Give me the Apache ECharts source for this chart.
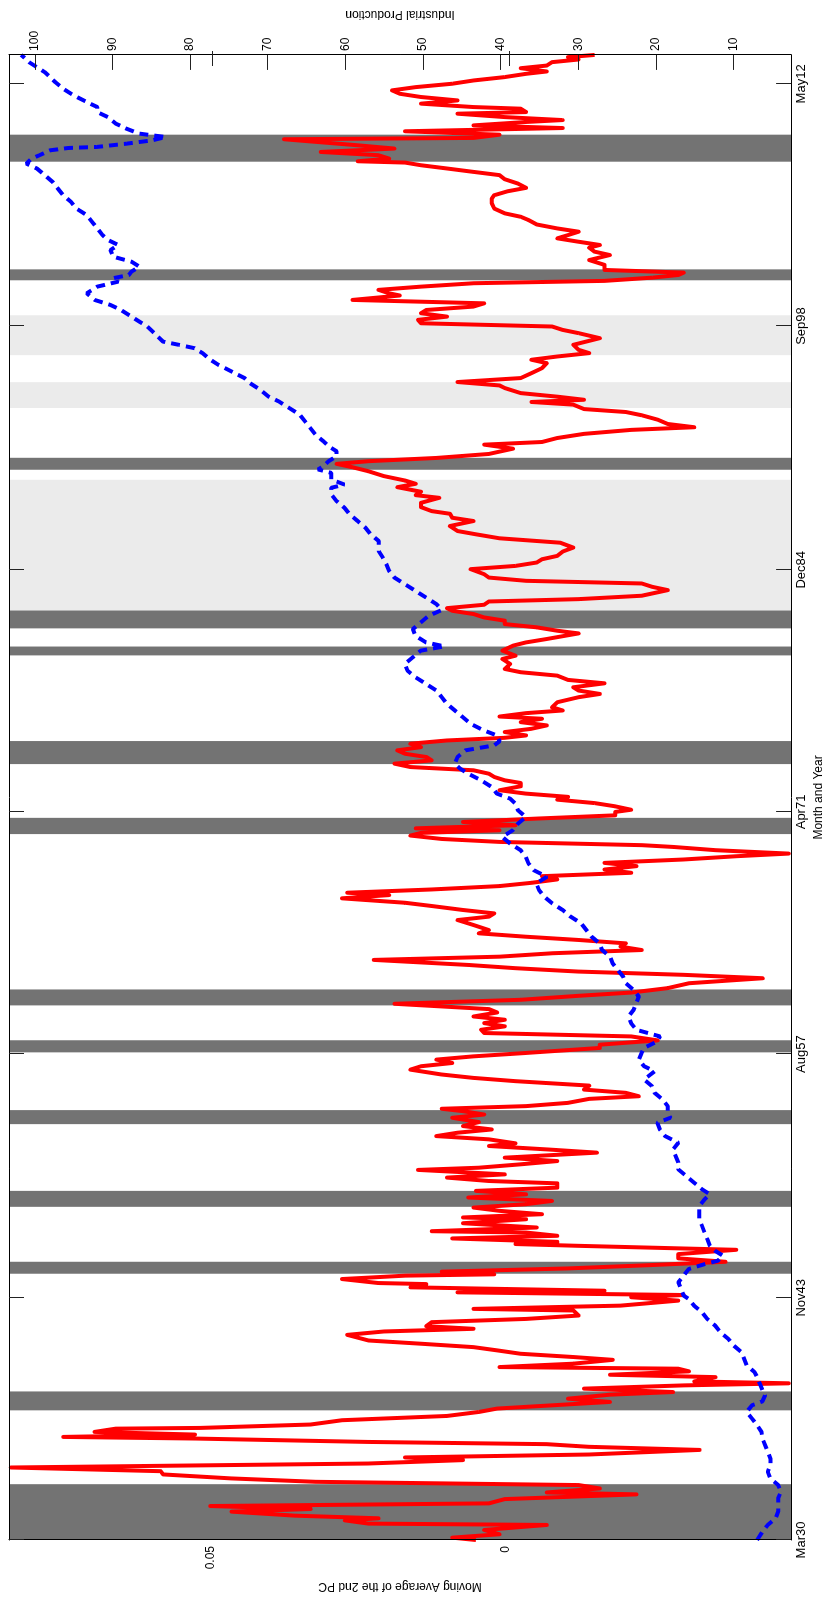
<!DOCTYPE html>
<html>
<head>
<meta charset="utf-8">
<script src="https://cdn.jsdelivr.net/npm/echarts@6.0.0/dist/echarts.min.js"></script>
<style>
  html, body { margin: 0; padding: 0; background: #fff; overflow: hidden; width: 830px; height: 1602px; }
  /* the figure is drawn landscape and turned a quarter turn, like the reference */
  #chart { position: absolute; left: 0; top: 0; width: 1602px; height: 830px;
           transform-origin: 0 0; transform: translate(0px, 1602px) rotate(-90deg); }
</style>
</head>
<body>
<div id="chart"></div>
<script>
// x axis: months since Mar 1930
const monthTicks = [0, 164, 329, 493, 657, 822, 986];
const monthLabels = ['Mar30', 'Nov43', 'Aug57', 'Apr71', 'Dec84', 'Sep98', 'May12'];
const monthMax = 1005.6;

const pcTicks = [0, 0.05];
const pcRange = [-0.0483, 0.0842];
const ipTicks = [10, 20, 30, 40, 50, 60, 70, 80, 90, 100];
const ipRange = [2.57, 103.33];

// recessions (dark) and other shaded periods (light), [start, end] in months
const recessions = [
  [0, 37.8], [87.8, 100.6], [180.3, 188.4], [225.6, 236.4], [281.6, 291.1],
  [330.2, 338.4], [362.0, 372.8], [478.0, 489.0], [525.4, 541.0], [599.0, 605.0],
  [617.3, 629.4], [724.7, 732.8], [853.0, 860.4], [933.3, 951.6]
];
const lightPeriods = [[629.4, 717.9], [766.5, 784.0], [802.3, 829.3]];

// moving average of the 2nd PC, [month, value]
const pcSeries = [
  [0,0.0051],[1.6,0.0091],[3.9,0.0011],[6.8,0.0037],[10.2,-0.0069],[11.1,0.0233],[13.3,0.0273],[14.7,0.0216],
  [16.5,0.0358],[19.2,0.0465],[21,0.0331],[23,0.0501],[24.8,0.0029],[27.7,0.0002],[30.9,-0.0221],[32.2,-0.0069],
  [34.9,-0.0159],[37.2,-0.0123],[39.4,0.0322],[41.7,0.0465],[44.4,0.0581],[46.6,0.0585],[49.1,0.0839],[51.8,0.0233],
  [54.1,0.0073],[55.9,0.0171],[57.9,-0.0141],[61,-0.0328],[63.1,-0.0141],[64.9,-0.0069],[66.4,0.0233],[68.7,0.0527],
  [69.8,0.075],[71.4,0.0527],[73.2,0.0697],[75.4,0.0661],[75.9,0.0518],[78.2,0.0331],[81.1,0.0278],[84,0.01],
  [86.7,0.0046],[89,0.0015],[91.2,-0.0078],[93.5,-0.0176],[95.7,-0.0105],[98.4,-0.0176],[100.2,-0.0283],[102.5,-0.0132],
  [104.7,-0.0301],[106.1,-0.0479],[107.4,-0.0319],[110.3,-0.0355],[111.9,-0.0176],[114.2,-0.031],[116,-0.0292],[117.1,0.0011],
  [119.4,-0.0114],[122,-0.0181],[123.9,-0.0114],[126.1,-0.0025],[128.4,0.0015],[130.6,0.0055],[132.9,0.0144],[135.1,0.0233],
  [138.9,0.0269],[141.2,0.0207],[143,0.0055],[144.8,0.0135],[147.5,0.0126],[149.7,-0.0034],[152,-0.0123],[155.4,-0.0114],
  [156.5,0.0055],[158.7,-0.0194],[162.1,-0.0292],[164.4,-0.0212],
  [165.9,-0.0301],[167.7,0.0082],[168.8,-0.0167],[171.1,0.0162],[173.3,0.0135],[174,0.0216],[176.7,0.0278],[179,0.0171],
  [179.9,0.002],[181.7,0.0109],[183.9,-0.0105],[186.2,-0.0248],[188.4,-0.0372],[190.7,-0.0292],[193.6,-0.0292],[196.5,-0.039],
  [199.2,-0.0123],[200.4,-0.0016],[201.9,-0.0087],[204.2,0.0091],[206,-0.0087],[208.2,-0.0034],[209.1,0.0126],[211.6,-0.0052],
  [214.5,0.0073],[217.2,-0.0034],[218.4,0.0073],[220.6,-0.0061],[222.9,0.0011],[225.1,0.0055],[227.4,-0.0034],[229.6,-0.0078],
  [231.9,0.0064],[234.1,-0.0034],[236.4,0.0051],[238.6,-0.0087],[241.5,-0.0087],[243.1,0.0029],[245.4,0.01],[247.6,0.0002],
  [250.6,0.0149],[252.1,0.0046],[254.4,-0.0025],[256.6,-0.0087],[258.9,0.0002],[262.3,-0.0154],[264.5,-0.0069],[266.8,0.0029],
  [268.6,-0.0016],[271.3,0.0029],[273.5,0.0118],[275.8,0.0082],[278,0.0024],[280.3,0.0073],[283,0.0046],[285.9,0.0091],
  [288.1,0.0037],[290.4,0.0073],[292,0.0109],[293.8,-0.0034],[296,-0.0105],[298.7,-0.0141],[300.5,-0.0225],[302.8,-0.0203],
  [305,-0.0132],[307.7,-0.0141],[310.7,-0.0016],[312.9,0.0055],[315.2,0.0109],[318.5,0.0162],[320.8,0.0144],[323,0.0091],
  [325.3,0.0118],[327.5,0.0055],[329.8,-0.0034],[333.2,-0.0159],
  [335.4,-0.0159],[338.3,-0.0257],[341,-0.0212],[343.3,0.0037],[345.5,0.0042],[347.8,0.0002],[350,0.0037],[352.3,0.0002],
  [354.5,0.0055],[357.2,0.0015],[359.5,0.0029],[363.1,0.0189],[365.8,-0.0025],[368.5,-0.0123],[370.7,-0.0212],[373.7,-0.0274],
  [377,-0.031],[380.4,-0.0435],[382.7,-0.0301],[384.9,-0.0123],[387.2,-0.0016],[389.4,0.0064],[392.8,0.0224],[395,0.0011],
  [397.3,-0.0078],[399.5,-0.023],[401.8,-0.0194],[404,-0.0203],[406.3,-0.0123],[408.5,-0.0034],[410.8,0.0046],[413,0.0029],
  [416.4,0.0055],[419.8,0.0082],[422.1,0.0029],[424.3,0.002],[426.6,0.0073],[429.3,0.0126],[431.5,0.0171],[434.5,0.0278],
  [436.7,0.0198],[438.3,0.0269],[440.5,0.0126],[442.8,0.0011],[445,-0.0043],[447.3,-0.0087],[449.5,-0.0061],[451.8,-0.0212],
  [454,-0.0167],[456.3,-0.0221],[458.5,-0.0167],[460.8,-0.0301],[463,-0.039],[464.8,-0.0479],[467.1,-0.0355],[469.3,-0.0283],
  [470.5,-0.023],[472.7,0.0011],[474.7,0.0109],[477,0.0162],[478.8,0.0144],[480.6,0.0011],[481.9,0.0153],[484,-0.0016],
  [486.2,0.0073],[488.5,-0.0052],[490.7,-0.0185],[493,-0.0185],[494.5,-0.0212],[496.8,-0.0185],[499,-0.015],[501.3,-0.0087],
  [503.2,-0.0105],[505.4,-0.0034],[507.7,0.0011],[510.4,-0.0025],[512.6,-0.0025],[514.4,0.0002],[516.7,0.002],[518.9,0.0029],
  [521.2,0.0055],[523.4,0.0162],[525.7,0.0189],[527.9,0.0126],[530.2,0.0135],[532.4,0.0171],[534.7,0.0184],[536.9,0.0144],
  [539.2,0.0162],[541.4,0.01],[543.2,0.0002],[544.8,-0.0034],[547.1,0.0002],[549.3,-0.0043],[551.6,-0.0069],[553.8,-0.0025],
  [556.1,-0.0061],[557.6,0.0011],[559.9,-0.0034],[561.7,-0.0096],[563.9,-0.0078],[567.3,-0.0087],[570.7,-0.0123],[572.9,-0.0159],
  [575.2,-0.0123],[577.4,-0.0114],[580.1,-0.0167],[582.4,-0.0105],[585.3,-0.0087],[587.6,-0.0025],[589.8,0.0002],[593.2,-0.0007],
  [596.6,0.0006],[598.8,-0.0016],[602.2,0.0006],[605.6,-0.0012],[607.8,-0.0034],[610.1,-0.0069],[613.9,-0.0123],[615.7,-0.0087],
  [618,-0.0052],[620.2,0.0002],[622.5,0.0002],[624.7,0.0037],[627,0.0055],[629.2,0.0091],[631,0.01],[633.3,0.0037],
  [635.5,0.0029],[637.1,-0.0123],[639.4,-0.023],[643.2,-0.0274],[645.4,-0.0248],[647.7,-0.023],[649.5,-0.0034],[651.7,0.0029],
  [654,0.0037],[657.4,0.006],[659.6,-0.0016],[661.9,-0.0052],[664.1,-0.0061],[666.4,-0.0087],[669.3,-0.0096],
  [672,-0.0114],[675.3,-0.0092],[678.3,0.0011],[681,0.0051],[683.2,0.0082],[686.6,0.0095],[690,0.0055],[692.2,0.0091],
  [694.9,0.0095],[696.7,0.0126],[699.4,0.0144],[702.3,0.0144],[705.7,0.0113],[707.5,0.0153],[709.8,0.0144],[712.9,0.0184],
  [715.2,0.0153],[717.4,0.0171],[720.4,0.0207],[723.7,0.0233],[726.4,0.026],[728.7,0.0287],[730.5,0.0233],[732.7,0.0118],
  [735.4,0.0029],[739,-0.0012],[741.7,0.0037],[743.5,-0.0061],[746.2,-0.0087],[749,-0.0132],[751.7,-0.0212],[753.5,-0.0319],
  [755.7,-0.0274],[758.6,-0.0257],[761.6,-0.023],[763.8,-0.0203],[765.8,-0.0132],[768.8,-0.0114],[770.6,-0.0043],[772.1,-0.0132],
  [774.2,-0.0087],[776.6,-0.0025],[780,0.0002],[781.8,0.0011],[784.1,0.0082],[786.8,-0.0025],[790.1,-0.0043],[793.5,-0.0061],
  [796.9,-0.0069],[799.2,-0.0043],[801.4,-0.0087],[803.7,-0.0141],[805.9,-0.0123],[809.3,-0.0114],[813.8,-0.0159],[817.2,-0.0123],
  [819.4,-0.0096],[821.7,-0.0078],[823.9,0.0144],[826.2,0.0149],[828.4,0.01],[830.7,0.0144],[832.9,0.0135],[835.2,0.0055],
  [837.4,0.0037],[839.7,0.026],
  [840.9,0.026],[842.7,0.018],[844.2,0.0198],[846.5,0.0216],[848.7,0.0144],[851,0.0055],[852.6,-0.0167],[854.8,-0.0248],
  [856.6,-0.0292],[858.2,-0.0301],[860,-0.0167],[863.4,-0.0167],[866.7,-0.0141],[870.1,-0.0176],[872.4,-0.015],[875.1,-0.0141],
  [876.9,-0.0159],[879.1,-0.0123],[881.4,-0.0087],[883.6,-0.0105],[885.9,-0.0123],[888.1,-0.0087],[890.8,-0.0052],[893.8,-0.0038],
  [896,-0.0025],[898.3,0.0002],[901.6,0.002],[905,0.0024],[908.4,0.0024],[910.6,0.002],[913.3,-0.0003],[915.6,-0.0034],
  [918.5,-0.002],[921.4,0.0002],[924.2,0.0011],[926.4,0.0055],[928.7,0.01],[930.9,0.0144],[932.7,0.0171],[933.6,0.0251],
  [935.4,0.0198],[937.7,0.0216],[939.9,0.0314],[942.2,0.0189],[944.4,0.0251],[948.5,0.0376],[949.4,0.0055],[951.6,0.0011],
  [953.9,0.0171],[956.1,-0.0096],[957.9,0.0055],[960.2,-0.0034],[961.5,-0.0096],[963.5,0.0002],[965.8,0.0082],[966.9,-0.0034],
  [969.2,-0.0025],[970.3,0.0055],[972.6,0.0144],[974.8,0.0082],[977.1,0.0144],[979.3,0.018],[981.6,0.0193],[983.8,0.0153],
  [986.1,0.0091],[988.3,0.0055],[990.6,0.0002],[992.8,-0.0034],[994.4,-0.0069],[996.6,-0.0025],[998.4,-0.0069],[1000.7,-0.0078],
  [1002.5,-0.0123],[1004.1,-0.0105],[1005.6,-0.015]
];

// industrial production index, [month, value]
const ipSeries = [
  [0,6.94],[5.7,6.26],[10.2,5.58],[14.7,4.57],[19.2,4.23],[23.7,4.23],[28.2,4.23],[32.7,3.89],[37.2,4.23],[41.7,5.24],
  [46.2,5.58],[50.7,5.24],[55.2,5.24],[59.7,5.58],[64.2,5.92],[68.7,6.26],[73.2,6.39],[77.7,6.94],[82.2,7.61],[86.7,8.29],
  [91.2,7.61],[93.9,6.26],[98,5.92],[101.3,6.26],[105.8,6.6],[110.3,6.94],[113.7,7.28],[118.2,8.29],[122.7,8.63],[127.2,8.97],
  [131.7,9.98],[136.2,10.66],[140.7,11.68],[145.2,12.36],[149.7,13.37],[154.2,14.05],[158.7,15.07],[163.2,15.75],
  [165.5,16.42],[170,16.76],[174.5,17.1],[179,16.42],[183.5,15.75],[186.8,13.72],[189.1,12.02],[192.5,11.35],[195.8,12.36],
  [199.2,13.04],[203.7,13.37],[208.2,13.72],[212.7,14.05],[217.2,14.39],[221.7,14.39],[226.2,14.39],[230.7,13.72],[234.1,13.04],
  [237.5,14.05],[242,15.07],[246.5,16.09],[251,17.1],[255.5,17.1],[260,17.44],[264.5,17.78],[269,17.1],[273.5,18.8],
  [278,19.48],[282.5,19.81],[285.9,18.12],[289.3,18.46],[293.8,18.46],[298.3,19.13],[302.8,20.15],[307.3,20.49],[311.8,21.51],
  [317.4,20.15],[320.8,21.51],[325.3,22.18],[329.8,21.84],[333.2,21.51],
  [337.6,19.81],[341,19.47],[345.5,22.52],[350,23.19],[354.5,23.53],[359,22.86],[363.5,22.52],[368,22.18],[372.5,22.86],
  [377,23.87],[381.5,24.21],[386,24.89],[390.5,25.56],[395,25.9],[399.5,26.92],[404,27.26],[408.5,28.27],[413,28.95],
  [417.6,29.63],[422.1,30.98],[426.6,32],[431.1,33.35],[435.6,34.37],[440.1,35.05],[444.6,35.39],[449.1,34.03],[453.6,35.73],
  [458.1,36.4],[462.6,36.74],[467.1,37.42],[471.6,38.77],[476.1,39.79],[480.6,38.43],[485.1,37.76],[489.6,36.74],[494.1,37.76],
  [498.6,38.09],
  [502,38.77],[505.4,40.47],[509.9,41.14],[514.4,42.5],[518.9,44.19],[522.3,45.21],[525.7,45.89],[530.2,45.55],[534.7,44.53],
  [538.1,40.81],[540.8,40.13],[544.8,40.47],[548.2,42.16],[552.7,43.86],[557.2,44.87],[561.7,45.89],[566.2,46.9],[570.7,47.58],
  [575.2,48.26],[579.7,49.61],[584.2,50.97],[588.7,51.99],[593.2,52.33],[597.7,51.31],[602.2,50.29],[605.1,47.24],[607.8,49.61],
  [612.3,50.97],[616.8,51.31],[621.3,50.29],[625.8,49.27],[629.7,47.58],[633.7,48.26],[638.2,49.61],[642.7,50.97],[647.2,52.33],
  [651.7,53.68],[656.2,54.36],[660.7,54.7],[665.2,55.17],[669.7,55.71],
  [676.5,55.71],[681,56.73],[685.5,57.41],[690,58.42],[694.5,59.44],[699,60.12],[703.5,61.13],[708,61.81],[712.5,61.81],
  [714.7,60.12],[718.1,61.81],[722.6,61.81],[724.9,63.51],[727.1,62.83],[730.5,62.15],[733.9,61.13],[737.2,61.13],[740.6,62.15],
  [744,62.83],[748.5,63.84],[753,64.52],[757.5,65.2],[762,65.87],[766.5,67.23],[771,68.58],[774.4,69.94],[778.9,70.96],
  [783.4,72.31],[786.8,72.99],[791.3,74.68],[795.8,76.37],[799.2,77.39],[803.7,78.41],[807,79.42],[809.3,81.45],[811.5,83.49],
  [814.9,84.16],[818.3,84.84],[821.7,85.52],[825,86.53],[829.5,87.89],[832.9,88.9],[836.3,90.26],
  [839.7,92.29],[844.2,93.31],[848.7,91.95],[852.1,89.24],[854.4,89.92],[856.6,87.89],[858.9,87.55],[862.2,86.53],[865.6,87.55],
  [869,89.92],[873.5,90.26],[876.9,89.24],[880.3,90.6],[883.6,91.28],[888.1,91.95],[892.6,92.63],[897.1,93.31],[901.6,94.66],
  [906.1,95.34],[910.6,96.35],[915.1,97.03],[919.6,97.71],[924.2,98.72],[928.7,99.74],[932,101.09],[935.4,100.42],[937.7,99.4],
  [941,98.04],[942.6,95.67],[943.3,92],[945.5,88.2],[947.8,84.84],[950,83.14],[952.3,86.53],[955.7,88.22],[959.1,89.58],
  [963.5,90.6],[966.9,91.95],[970.3,91.95],[973.7,93.31],[978.2,95],[982.7,96.35],[987.2,97.37],[990.6,98.04],[993.9,98.72],
  [997.3,99.74],[1000.7,100.75],[1004.1,101.43],[1005.6,101.77]
];

const font = "'Liberation Sans', Arial, sans-serif";
const frameLine = { show: true, onZero: false, lineStyle: { color: '#000', width: 1 } };
const tickStyle = { color: '#222', width: 1 };

const chart = echarts.init(document.getElementById('chart'), null, { renderer: 'canvas' });

const gridBox = { left: 62, right: 51, top: 9, bottom: 34 };

const option = {
  animation: false,
  backgroundColor: '#fff',
  textStyle: { fontFamily: font },
  grid: [
    Object.assign({ show: false }, gridBox),
    Object.assign({ show: false }, gridBox)
  ],
  xAxis: [
    {
      type: 'value', gridIndex: 0, position: 'bottom', min: 0, max: monthMax, z: 5,
      name: 'Month and Year', nameLocation: 'middle', nameGap: 20,
      nameTextStyle: { fontSize: 12, color: '#000', fontFamily: font },
      axisLine: frameLine,
      axisTick: { show: true, inside: true, length: 15, customValues: monthTicks, lineStyle: tickStyle },
      axisLabel: {
        customValues: monthTicks, margin: 4, fontSize: 13, color: '#000', fontFamily: font,
        formatter: function (v) {
          const i = monthTicks.findIndex(t => Math.abs(t - v) < 0.5);
          return i >= 0 ? monthLabels[i] : '';
        }
      },
      splitLine: { show: false }
    },
    {
      type: 'value', gridIndex: 0, position: 'top', min: 0, max: monthMax, z: 5,
      axisLine: frameLine,
      axisTick: { show: true, inside: true, length: 15, customValues: monthTicks, lineStyle: tickStyle },
      axisLabel: { show: false },
      splitLine: { show: false }
    },
    {
      type: 'value', gridIndex: 1, min: 0, max: monthMax, show: false,
      axisLine: { onZero: false }
    }
  ],
  yAxis: [
    {
      type: 'value', gridIndex: 0, position: 'left', min: pcRange[0], max: pcRange[1], z: 5,
      name: 'Moving Average of the 2nd PC', nameLocation: 'middle', nameGap: 37,
      nameTextStyle: { fontSize: 12, color: '#000', fontFamily: font },
      axisLine: frameLine,
      axisTick: { show: false },
      axisLabel: { customValues: pcTicks, margin: 6, fontSize: 12, color: '#000', fontFamily: font },
      splitLine: { show: false }
    },
    {
      type: 'value', gridIndex: 0, position: 'right', min: ipRange[0], max: ipRange[1], z: 5,
      name: 'Industrial Production', nameLocation: 'middle', nameGap: 31,
      nameTextStyle: { fontSize: 12, color: '#000', fontFamily: font },
      axisLine: frameLine,
      axisTick: { show: true, inside: true, length: 15, customValues: ipTicks, lineStyle: tickStyle },
      axisLabel: { customValues: ipTicks, margin: 4, fontSize: 12, color: '#000', fontFamily: font },
      splitLine: { show: false }
    },
    {
      // mirrored ticks of the PC axis on the right edge
      type: 'value', gridIndex: 1, position: 'right', min: pcRange[0], max: pcRange[1], z: 5,
      axisLine: { show: false, onZero: false },
      axisTick: { show: true, inside: true, length: 15, customValues: pcTicks, lineStyle: tickStyle },
      axisLabel: { show: false },
      splitLine: { show: false }
    }
  ],
  series: [
    {
      name: 'shaded', type: 'line', xAxisIndex: 0, yAxisIndex: 0, data: [], z: 1,
      markArea: {
        silent: true,
        itemStyle: { color: '#ebebeb' },
        data: lightPeriods.map(p => [{ xAxis: p[0] }, { xAxis: p[1] }])
      }
    },
    {
      name: 'recessions', type: 'line', xAxisIndex: 0, yAxisIndex: 0, data: [], z: 1,
      markArea: {
        silent: true,
        itemStyle: { color: '#737373' },
        data: recessions.map(p => [{ xAxis: p[0] }, { xAxis: p[1] }])
      }
    },
    {
      name: 'Moving Average of the 2nd PC', type: 'line', xAxisIndex: 0, yAxisIndex: 0,
      data: pcSeries, showSymbol: false, z: 3,
      lineStyle: { color: '#ff0000', width: 4, join: 'round' }
    },
    {
      name: 'Industrial Production', type: 'line', xAxisIndex: 0, yAxisIndex: 1,
      data: ipSeries, showSymbol: false, z: 4,
      lineStyle: { color: '#0000ff', width: 4, type: [9, 6] }
    }
  ]
};

chart.setOption(option);
</script>
</body>
</html>
